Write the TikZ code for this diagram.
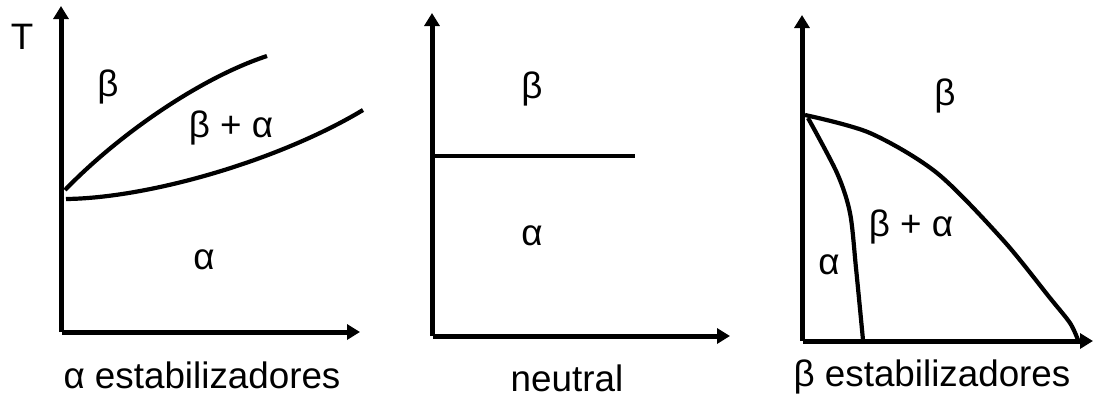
\documentclass[tikz,border=0pt]{standalone}
\usepackage{fontspec}
\setmainfont{Liberation Sans}
\usepackage{tikz}
\usetikzlibrary{arrows.meta}

\begin{document}
\begin{tikzpicture}[
        x=0.5pt, y=-0.5pt,
        axis/.style ={line width=2.5pt, -{Triangle[length=6.5pt,width=7.5pt]}},
        bound/.style={line width=2.1pt},
        lab/.style  ={font=\fontsize{18.4}{18.4}\selectfont, inner sep=0pt}
    ]
        \useasboundingbox (0,0) rectangle (1093,398);

        % alpha estabilizadores
        \coordinate (O1) at (61,332);
        \coordinate (Y1) at (61,6);
        \coordinate (X1) at (360,332);
        \draw[axis] (O1) -- (Y1);
        \draw[axis] ([xshift=0.6pt]O1) -- (X1);
        \draw[bound] (65,190) .. controls (118,135) and (200,78) .. (267,56);
        \draw[bound] (66,199) .. controls (150,198) and (280,160) .. (363,110);
        \node[lab] (T)   at (22,37)   {T};
        \node[lab] (B1)  at (108,87)  {β};
        \node[lab] (BA1) at (231,128) {β + α};
        \node[lab] (A1)  at (204,260) {α};
        \node[lab] (C1)  at (202,375) {α estabilizadores};

        % neutral
        \coordinate (O2) at (432,336);
        \coordinate (Y2) at (432,13);
        \coordinate (X2) at (730,336);
        \draw[axis] (O2) -- (Y2);
        \draw[axis] ([xshift=0.6pt]O2) -- (X2);
        \draw[bound] (433,156) -- (635,156);
        \node[lab] (B2) at (532,89)  {β};
        \node[lab] (A2) at (532,236) {α};
        \node[lab] (C2) at (567,378) {neutral};

        % beta estabilizadores
        \coordinate (O3) at (802,341);
        \coordinate (Y3) at (802,15);
        \coordinate (X3) at (1093,341);
        \draw[axis] (O3) -- (Y3);
        \draw[axis] ([xshift=0.6pt]O3) -- (X3);
        \draw[bound] plot[smooth] coordinates {(805,115) (870,133) (937,173)
            (1003,240) (1050,298) (1070,323) (1078,340)};
        \draw[bound] plot[smooth] coordinates {(808,118) (837,173) (850,213)
            (856,268) (863,340)};
        \node[lab] (B3)  at (945,96)  {β};
        \node[lab] (BA3) at (911,227) {β + α};
        \node[lab] (A3)  at (829,265) {α};
        \node[lab] (C3)  at (932,377) {β estabilizadores};
    \end{tikzpicture}
\end{document}
